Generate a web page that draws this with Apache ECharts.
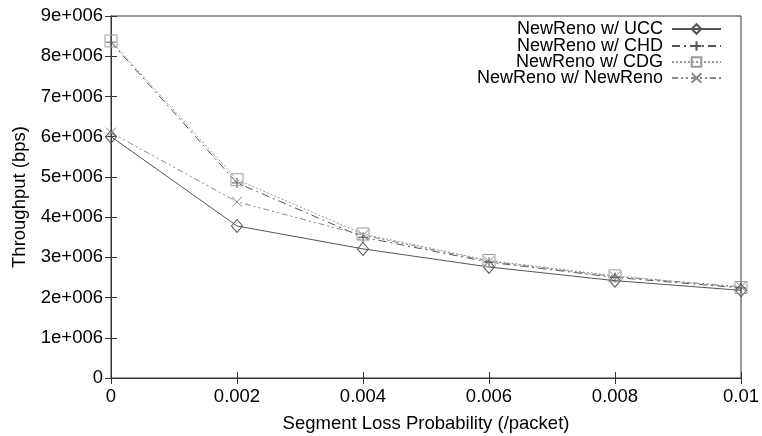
<!DOCTYPE html>
<html><head><meta charset="utf-8">
<script src="https://cdn.jsdelivr.net/npm/echarts@6/dist/echarts.min.js"></script>
<style>html,body{margin:0;padding:0;background:#fff}#c{width:762px;height:436px}</style>
</head><body><div id="c"></div>
<script>
const xValues = [0, 0.002, 0.004, 0.006, 0.008, 0.01];
const ucc = [6.0e6, 3.78e6, 3.21e6, 2.76e6, 2.42e6, 2.18e6];
const chd = [8.35e6, 4.85e6, 3.5e6, 2.88e6, 2.5e6, 2.24e6];
const cdg = [8.38e6, 4.93e6, 3.58e6, 2.92e6, 2.54e6, 2.25e6];
const newreno = [6.1e6, 4.38e6, 3.55e6, 2.9e6, 2.52e6, 2.27e6];
const seriesNames = ['NewReno w/ UCC', 'NewReno w/ CHD', 'NewReno w/ CDG', 'NewReno w/ NewReno'];
const yTicks = ['0','1e+006','2e+006','3e+006','4e+006','5e+006','6e+006','7e+006','8e+006','9e+006'];

const FONT = 'Liberation Sans';
const plus = 'path://M0,5L10,5M5,0L5,10';
const cross = 'path://M0,0L10,10M10,0L0,10';
function pairs(arr){ return xValues.map((x,i)=>[x,arr[i]]); }
const styles = [
  {data: ucc, color:'#555', type:'solid', symbol:'diamond', size:[11,13]},
  {data: chd, color:'#555', type:[8,4,2,4], symbol:plus, size:10},
  {data: cdg, color:'#999', type:[2,2], symbol:'rect', size:12},
  {data: newreno, color:'#888', type:[6,3,2,3,2,3], symbol:cross, size:10}
];
const series = styles.map((s,i)=>({
  name: seriesNames[i], type:'line', data: pairs(s.data),
  symbol: s.symbol, symbolSize: s.size, showSymbol:true,
  lineStyle:{color:s.color, width:1, type:s.type},
  itemStyle:{color:'none', borderColor:s.color, borderWidth:1},
  emphasis:{disabled:true}, animation:false, z: 5
}));
const legendCenters = [29, 46, 62, 78];
const legends = seriesNames.map((n,i)=>({
  data:[n], right: 40, top: legendCenters[i] - 10, align:'right', orient:'vertical',
  itemWidth: 49, itemHeight: 12, itemGap: 0, padding:[0,0,0,0],
  selectedMode:false,
  textStyle:{fontFamily:FONT, fontSize:18, color:'#000', padding:[0,4,0,0], lineHeight:20}
}));
const chart = echarts.init(document.getElementById('c'), null, {renderer:'canvas'});
chart.setOption({
  animation:false,
  backgroundColor:'#fff',
  legend: legends,
  grid:{left:111, right:21, top:16, bottom:58, show:true, borderColor:'#333', borderWidth:1,
    containLabel:false, outerBoundsMode:'none'},
  xAxis:[{
    type:'value', min:0, max:0.01, interval:0.002,
    name:'Segment Loss Probability (/packet)', nameLocation:'middle', nameGap:36,
    nameTextStyle:{fontFamily:FONT, fontSize:18.5, color:'#000'},
    axisLine:{show:true, lineStyle:{color:'#333'}},
    axisTick:{show:true, inside:true, length:6, lineStyle:{color:'#333'}},
    splitLine:{show:false},
    axisLabel:{fontFamily:FONT, fontSize:18.5, color:'#000', margin:9,
      formatter:v=>String(parseFloat(v.toFixed(3)))}
  },{
    type:'value', min:0, max:0.01, interval:0.002, position:'top',
    axisLine:{show:true, lineStyle:{color:'#333'}},
    axisTick:{show:true, inside:true, length:6, lineStyle:{color:'#333'}},
    axisLabel:{show:false}, splitLine:{show:false}
  }],
  yAxis:[{
    type:'value', min:0, max:9e6, interval:1e6,
    name:'Throughput (bps)', nameLocation:'middle', nameGap:80,
    nameTextStyle:{fontFamily:FONT, fontSize:18.5, color:'#000'},
    axisLine:{show:true, lineStyle:{color:'#333'}},
    axisTick:{show:true, inside:true, length:6, lineStyle:{color:'#333'}},
    splitLine:{show:false},
    axisLabel:{fontFamily:FONT, fontSize:18.5, color:'#000', margin:8,
      formatter:v=>yTicks[Math.round(v/1e6)]}
  },{
    type:'value', min:0, max:9e6, interval:1e6, position:'right',
    axisLine:{show:true, lineStyle:{color:'#333'}},
    axisTick:{show:true, inside:true, length:6, lineStyle:{color:'#333'}},
    axisLabel:{show:false}, splitLine:{show:false}
  }],
  series: series
});
</script></body></html>
